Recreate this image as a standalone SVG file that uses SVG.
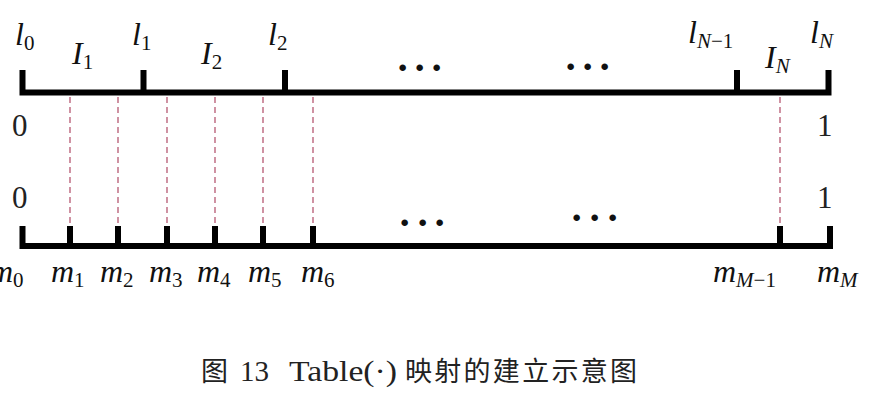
<svg xmlns="http://www.w3.org/2000/svg" width="886" height="404" viewBox="0 0 886 404">
<style>
.axis{fill:none;stroke:#000;stroke-width:6;stroke-linejoin:miter;stroke-linecap:butt}
.tick{fill:none;stroke:#000;stroke-width:6}
.dash{fill:none;stroke:#b04a66;stroke-width:1.2;stroke-dasharray:6 4}
.m{font-family:"Liberation Serif",serif;font-style:italic;font-size:32px;fill:#111}
.sub{font-size:21px;font-style:normal}
.subi{font-size:21px;font-style:italic}
.num{font-family:"Liberation Serif",serif;font-size:31px;fill:#222}
.dots{font-family:"Liberation Serif",serif;font-size:40px;font-weight:bold;fill:#111}
.cap{font-family:"Liberation Serif",serif;font-size:29px;fill:#222}
.capc{font-family:"Noto Sans CJK SC",sans-serif;font-size:27px;fill:#222}
</style>
<rect width="886" height="404" fill="#fff"/>
<g id="top-axis">
<path class="axis" d="M22.5,70 V92.5 H828.5 V70"/>
<path class="tick" d="M143.5,70 V92 M285,70 V92 M737,70 V92"/>
</g>
<g id="bottom-axis">
<path class="axis" d="M22.5,226 V246 H830 V226"/>
<path class="tick" d="M70,226 V246 M118,226 V246 M167,226 V246 M215,226 V246 M263,226 V246 M313,226 V246 M780,226 V246"/>
</g>
<g id="connectors">
<path class="dash" d="M70,97 V226 M118,97 V226 M167,97 V226 M215,97 V226 M263,97 V226 M313,97 V226 M780,97 V226"/>
</g>
<g id="top-labels">
<text class="m" x="15" y="45">l<tspan class="sub" dy="5">0</tspan></text>
<text class="m" x="72" y="64">I<tspan class="sub" dy="5">1</tspan></text>
<text class="m" x="132" y="45">l<tspan class="sub" dy="5">1</tspan></text>
<text class="m" x="201" y="64">I<tspan class="sub" dy="5">2</tspan></text>
<text class="m" x="268" y="45">l<tspan class="sub" dy="5">2</tspan></text>
<text class="m" x="688" y="43">l<tspan class="subi" dy="5">N</tspan><tspan class="sub">−1</tspan></text>
<text class="m" x="765" y="68">I<tspan class="subi" dy="5">N</tspan></text>
<text class="m" x="810" y="43">l<tspan class="subi" dy="5">N</tspan></text>
<text class="dots" x="396 413 430" y="81">···</text>
<text class="dots" x="564 581 598" y="80">···</text>
</g>
<g id="endpoints">
<text class="num" x="12" y="136">0</text>
<text class="num" x="12" y="208">0</text>
<text class="num" x="817" y="136">1</text>
<text class="num" x="817" y="208">1</text>
<text class="dots" x="398 416 433" y="236">···</text>
<text class="dots" x="570 588 606" y="231">···</text>
</g>
<g id="bottom-labels">
<text class="m" x="-10" y="282">m<tspan class="sub" dy="5">0</tspan></text>
<text class="m" x="51" y="282">m<tspan class="sub" dy="5">1</tspan></text>
<text class="m" x="100" y="282">m<tspan class="sub" dy="5">2</tspan></text>
<text class="m" x="149" y="282">m<tspan class="sub" dy="5">3</tspan></text>
<text class="m" x="197" y="282">m<tspan class="sub" dy="5">4</tspan></text>
<text class="m" x="248" y="282">m<tspan class="sub" dy="5">5</tspan></text>
<text class="m" x="301" y="282">m<tspan class="sub" dy="5">6</tspan></text>
<text class="m" x="713" y="282">m<tspan class="subi" dy="5">M</tspan><tspan class="sub">−1</tspan></text>
<text class="m" x="817" y="282">m<tspan class="subi" dy="5">M</tspan></text>
</g>
<g id="caption">
<text class="capc" x="201" y="381">图</text>
<text class="cap" x="240" y="381">13</text>
<text class="cap" x="289" y="381" textLength="108" lengthAdjust="spacingAndGlyphs">Table(·)</text>
<text class="capc" x="405" y="381" textLength="232">映射的建立示意图</text>
</g>
</svg>
